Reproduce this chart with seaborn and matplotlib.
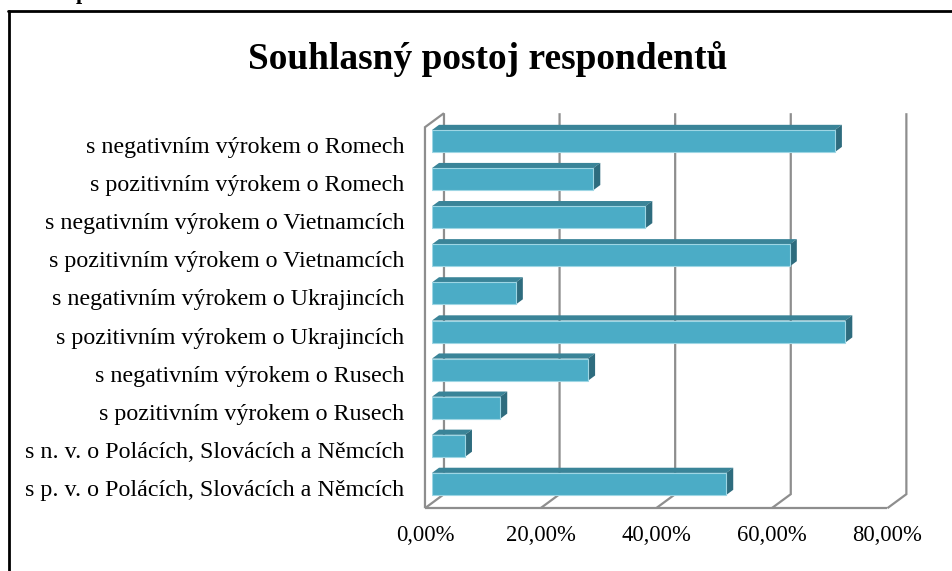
import matplotlib
matplotlib.use("Agg")
import matplotlib.pyplot as plt
import pandas as pd
import seaborn as sns
from matplotlib.patches import Polygon
from matplotlib.lines import Line2D
from matplotlib.transforms import Affine2D, IdentityTransform

# ---- data -------------------------------------------------------------
categories = [
    "s negativním výrokem o Romech",
    "s pozitivním výrokem o Romech",
    "s negativním výrokem o Vietnamcích",
    "s pozitivním výrokem o Vietnamcích",
    "s negativním výrokem o Ukrajincích",
    "s pozitivním výrokem o Ukrajincích",
    "s negativním výrokem o Rusech",
    "s pozitivním výrokem o Rusech",
    "s n. v. o Polácích, Slovácích a Němcích",
    "s p. v. o Polácích, Slovácích a Němcích",
]
values = [69.7, 27.9, 36.9, 61.9, 14.5, 71.5, 27.0, 11.8, 5.7, 50.9]
tick_values = [0, 20, 40, 60, 80]
tick_labels = ["0,00%", "20,00%", "40,00%", "60,00%", "80,00%"]
title = "Souhlasný postoj respondentů"

# ---- style ------------------------------------------------------------
FRONT = "#4BACC6"
TOP = "#3A8498"
SIDE = "#2E6C7E"
EDGE = "#9ED6E4"
GRID = "#8E8E8E"

sns.set_theme(style="white")
plt.rcParams["font.family"] = ["Liberation Serif", "DejaVu Serif"]

W, H = 953, 571
fig = plt.figure(figsize=(W / 100, H / 100), dpi=100)
fig.patch.set_facecolor("white")

# axes = plane of the bars' front faces
ax = fig.add_axes([432 / W, 1 - 503 / H, 462.4 / W, (503 - 122) / H])
ax.set_facecolor("none")

df = pd.DataFrame({"kategorie": categories, "podil": values})
sns.barplot(data=df, x="podil", y="kategorie", orient="h", color=FRONT,
            saturation=1, width=0.58, edgecolor=EDGE, linewidth=0.8,
            ax=ax, zorder=3)

ax.set_xlim(tick_values[0], tick_values[-1])
ax.set_ylim(len(categories) - 0.5, -0.5)
for s in ax.spines.values():
    s.set_visible(False)
ax.set_xlabel("")
ax.set_ylabel("")

# oblique depth of the 3-D box (pixels for the full depth)
DEPTH_X, DEPTH_Y = 19.0, 14.0
BAR_FRONT, BAR_BACK = 0.37, 0.74


def disp(x, y, d):
    px, py = ax.transData.transform((x, y))
    return (px + (d - BAR_FRONT) * DEPTH_X, py + (d - BAR_FRONT) * DEPTH_Y)


ybot, ytop = ax.get_ylim()
ident = IdentityTransform()


def seg(points, **kw):
    xs, ys = zip(*points)
    ax.add_line(Line2D(xs, ys, transform=ident, clip_on=False,
                       color=GRID, lw=1.6, solid_capstyle="butt",
                       solid_joinstyle="miter", zorder=1, **kw))


# back wall grid lines and floor diagonals
for t in tick_values:
    seg([disp(t, ytop, 1), disp(t, ybot, 1), disp(t, ybot, 0)])
# floor front edge and left wall
seg([disp(tick_values[0], ybot, 0), disp(tick_values[-1], ybot, 0)])
seg([disp(tick_values[0], ybot, 0), disp(tick_values[0], ytop, 0),
     disp(tick_values[0], ytop, 1)])

# top and side faces of the bars
faces = []
for p in list(ax.patches):
    x0, w = p.get_x(), p.get_width()
    y0, h = p.get_y(), p.get_height()
    x1 = x0 + w
    top = [disp(x0, y0, BAR_FRONT), disp(x1, y0, BAR_FRONT),
           disp(x1, y0, BAR_BACK), disp(x0, y0, BAR_BACK)]
    side = [disp(x1, y0, BAR_FRONT), disp(x1, y0 + h, BAR_FRONT),
            disp(x1, y0 + h, BAR_BACK), disp(x1, y0, BAR_BACK)]
    faces.append((top, TOP))
    faces.append((side, SIDE))
for pts, col in faces:
    ax.add_patch(Polygon(pts, closed=True, transform=ident, facecolor=col,
                         edgecolor="none", clip_on=False, zorder=2.5))

# ticks
ax.set_xticks(tick_values, tick_labels)
ax.tick_params(axis="x", length=0, pad=16, labelsize=16.3, colors="black")
ax.tick_params(axis="y", length=0, pad=20, labelsize=17.3, colors="black")
for tk in ax.xaxis.get_major_ticks():
    tk.label1.set_transform(tk.label1.get_transform()
                            + Affine2D().translate(-(BAR_FRONT * DEPTH_X), 0))
for tk in ax.yaxis.get_major_ticks():
    tk.label1.set_transform(tk.label1.get_transform()
                            + Affine2D().translate(0, -4))

# title
fig.text(487.5 / W, 1 - 69 / H, title, ha="center", va="baseline",
         fontsize=26.9, fontweight="bold", color="black")

# text above the chart frame, cut by the page edge
fig.text(82 / W, 1 + 1 / H, "p", ha="center", va="baseline",
         fontsize=16, fontweight="bold", color="black")

# chart frame
fig.add_artist(Line2D([8 / W, 1], [1 - 11 / H, 1 - 11 / H],
                      transform=fig.transFigure, color="black", lw=2))
fig.add_artist(Line2D([9 / W, 9 / W], [0, 1 - 11 / H],
                      transform=fig.transFigure, color="black", lw=2))

fig.savefig("out.png", dpi=100)
